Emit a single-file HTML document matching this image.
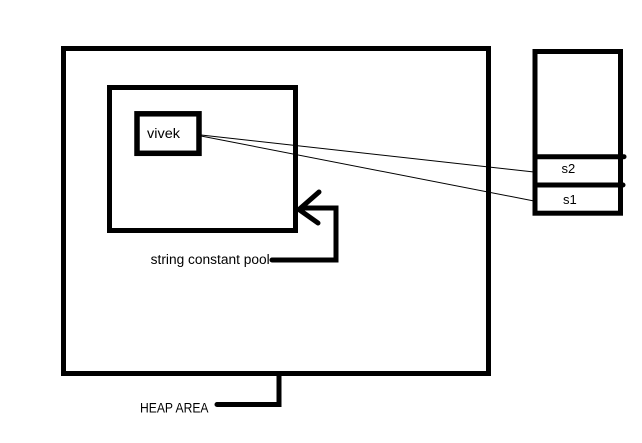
<!DOCTYPE html>
<html>
<head>
<meta charset="utf-8">
<style>
  html, body { margin: 0; padding: 0; background: #fff; }
  svg { display: block; }
  text { font-family: "Liberation Sans", "DejaVu Sans", sans-serif; fill: #000; }
</style>
</head>
<body>
<svg width="642" height="443" viewBox="0 0 642 443" xmlns="http://www.w3.org/2000/svg">
  <rect x="0" y="0" width="642" height="443" fill="#fff"/>

  <!-- Heap area outer box -->
  <rect x="63.5" y="48.5" width="425" height="325" fill="none" stroke="#000" stroke-width="5"/>

  <!-- String constant pool box -->
  <rect x="109.5" y="87.5" width="186" height="143" fill="none" stroke="#000" stroke-width="5"/>

  <!-- vivek box -->
  <rect x="137" y="113.8" width="62" height="39.5" fill="none" stroke="#000" stroke-width="5.5"/>
  <text x="147" y="138" font-size="13.5" textLength="33" lengthAdjust="spacingAndGlyphs">vivek</text>

  <!-- reference lines -->
  <line x1="201" y1="135" x2="534" y2="172" stroke="#000" stroke-width="1"/>
  <line x1="201" y1="136" x2="534" y2="201" stroke="#000" stroke-width="1"/>

  <!-- Stack box -->
  <rect x="535" y="51.5" width="85.5" height="161.7" fill="none" stroke="#000" stroke-width="5"/>
  <line x1="535" y1="156.7" x2="624" y2="156.7" stroke="#000" stroke-width="5" stroke-linecap="round"/>
  <line x1="535" y1="185" x2="623" y2="185" stroke="#000" stroke-width="5" stroke-linecap="round"/>
  <text x="561.5" y="173" font-size="13">s2</text>
  <text x="563" y="204" font-size="13">s1</text>

  <!-- Arrow for string constant pool -->
  <polyline points="272,260 336,260 336,208 301,208" fill="none" stroke="#000" stroke-width="5" stroke-linejoin="miter" stroke-linecap="round"/>
  <polyline points="319,192 299,209.5 318,223" fill="none" stroke="#000" stroke-width="5" stroke-linejoin="miter" stroke-linecap="round"/>
  <text x="150.7" y="264" font-size="13.5" textLength="119" lengthAdjust="spacingAndGlyphs">string constant pool</text>

  <!-- HEAP AREA connector -->
  <polyline points="279,376 279,404.5 217,404.5" fill="none" stroke="#000" stroke-width="5" stroke-linecap="round"/>
  <text x="140" y="412.5" font-size="13.5" textLength="68.5" lengthAdjust="spacingAndGlyphs">HEAP AREA</text>
</svg>
</body>
</html>
